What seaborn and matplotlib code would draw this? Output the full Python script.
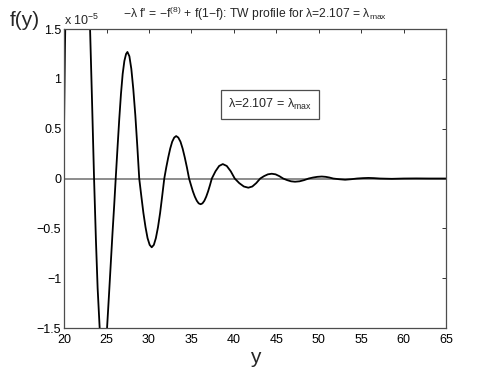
## Travelling wave profile, zoomed in around the tail oscillations

import seaborn as sns
import matplotlib
matplotlib.use("Agg")
import matplotlib.pyplot as plt
import pandas as pd

# values, f in units of 1e-5
y_pos = [20.0, 20.1, 20.3, 20.7, 21.2, 21.7, 22.2, 22.6, 22.85, 23.06, 23.3, 23.53,
         23.75, 23.95, 24.19, 24.4, 24.62, 24.84, 25.06, 25.3, 25.5, 25.7, 25.9, 26.08,
         26.3, 26.5, 26.7, 26.9, 27.1, 27.3, 27.46, 27.69, 27.92, 28.15, 28.39, 28.62, 28.85,
         29.1, 29.34, 29.59, 29.83, 30.08, 30.32, 30.57, 30.81, 31.06, 31.31, 31.55, 31.8,
         32.03, 32.27, 32.5, 32.73, 32.97, 33.2, 33.45, 33.71, 33.96, 34.21, 34.47, 34.72,
         34.95, 35.17, 35.4, 35.63, 35.85, 36.08, 36.3, 36.52, 36.74, 36.96, 37.18, 37.4,
         37.83, 38.26, 38.69, 39.16, 39.63, 40.1,
         40.63, 41.17, 41.7, 42.17, 42.63, 43.1,
         43.55, 44.0, 44.46, 44.91, 45.35, 45.8,
         46.27, 46.73, 47.2, 47.73, 48.27, 48.8,
         49.32, 49.83, 50.35, 50.8, 51.25, 51.7,
         52.4, 53.1, 53.8, 54.5, 55.2, 55.85, 56.5, 57.2,
         58.6, 60.0, 61.5, 63.0, 65.0]
f_val = [0.55, 1.3, 2.4, 3.6, 4.2, 4.3, 3.8, 2.9, 2.15, 1.5, 0.75, 0.0,
         -0.62, -1.1, -1.5, -1.73, -1.81, -1.73, -1.5, -1.15, -0.85, -0.55, -0.27, 0.0,
         0.32, 0.6, 0.85, 1.05, 1.18, 1.25, 1.27, 1.227, 1.10, 0.898, 0.635, 0.329, 0.0,
         -0.179, -0.345, -0.488, -0.598, -0.666, -0.69, -0.666, -0.598, -0.488, -0.345, -0.179, 0.0,
         0.110, 0.213, 0.301, 0.369, 0.411, 0.426, 0.411, 0.369, 0.301, 0.213, 0.110, 0.0,
         -0.067, -0.129, -0.182, -0.223, -0.249, -0.258, -0.249, -0.223, -0.182, -0.129, -0.067, 0.0,
         0.0725, 0.126, 0.145, 0.126, 0.0725, 0.0,
         -0.046, -0.080, -0.092, -0.080, -0.046, 0.0,
         0.024, 0.042, 0.048, 0.042, 0.024, 0.0,
         -0.016, -0.028, -0.032, -0.028, -0.016, 0.0,
         0.010, 0.017, 0.020, 0.017, 0.010, 0.0,
         -0.007, -0.012, -0.007, 0.0, 0.004, 0.006, 0.004, 0.0,
         -0.003, 0.0, 0.001, 0.0, 0.0]

x_ticks = [20, 25, 30, 35, 40, 45, 50, 55, 60, 65]
y_ticks = [-1.5, -1, -0.5, 0, 0.5, 1, 1.5]

data = pd.DataFrame({'y': y_pos, 'f': f_val})

sns.set_theme(style="white")
plt.rcParams['font.family'] = ['Liberation Sans', 'DejaVu Sans']
plt.rcParams['mathtext.fontset'] = 'custom'
plt.rcParams['mathtext.rm'] = 'Liberation Sans'
plt.rcParams['mathtext.it'] = 'Liberation Sans'

fig = plt.figure(figsize=(4.93, 3.70), dpi=100)
ax = fig.add_axes([0.130, 0.1135, 0.775, 0.808])

ax.axhline(0, color='0.55', lw=1.4, zorder=1)
sns.lineplot(x='y', y='f', data=data, color='black', lw=1.3, ax=ax, zorder=2)

ax.set_xlim(20, 65)
ax.set_ylim(-1.5, 1.5)
ax.set_xticks(x_ticks)
ax.set_xticklabels([str(t) for t in x_ticks])
ax.set_yticks(y_ticks)
ax.set_yticklabels(['\u22121.5', '\u22121', '\u22120.5', '0', '0.5', '1', '1.5'])
ax.tick_params(direction='in', length=3, width=0.7, top=True, right=True,
               labelsize=9, colors='0.2', labelcolor='black')
ax.tick_params(axis='x', pad=4)
ax.tick_params(axis='y', pad=2)
for s in ax.spines.values():
    s.set_color('0.3')
    s.set_linewidth(0.9)

ax.set_xlabel('y', fontsize=15, labelpad=2)
ax.set_ylabel('')
fig.text(0.02, 0.945, 'f(y)', fontsize=15, ha='left', va='center')
ax.text(0.0, 1.003, 'x 10$^{-5}$', transform=ax.transAxes, fontsize=9,
        ha='left', va='bottom')
ax.set_title("\u2212\u03bb f' = \u2212f$^{(8)}$ + f(1\u2212f): TW profile for \u03bb=2.107 = \u03bb$_{\\rm max}$",
             fontsize=8.7, pad=8)

ax.text(0.539, 0.747, '\u03bb=2.107 = \u03bb$_{\\rm max}$', transform=ax.transAxes,
        fontsize=9, ha='center', va='center',
        bbox=dict(boxstyle='square,pad=0.55', fc='white', ec='0.3', lw=0.9))

fig.savefig('out.png', dpi=100)
